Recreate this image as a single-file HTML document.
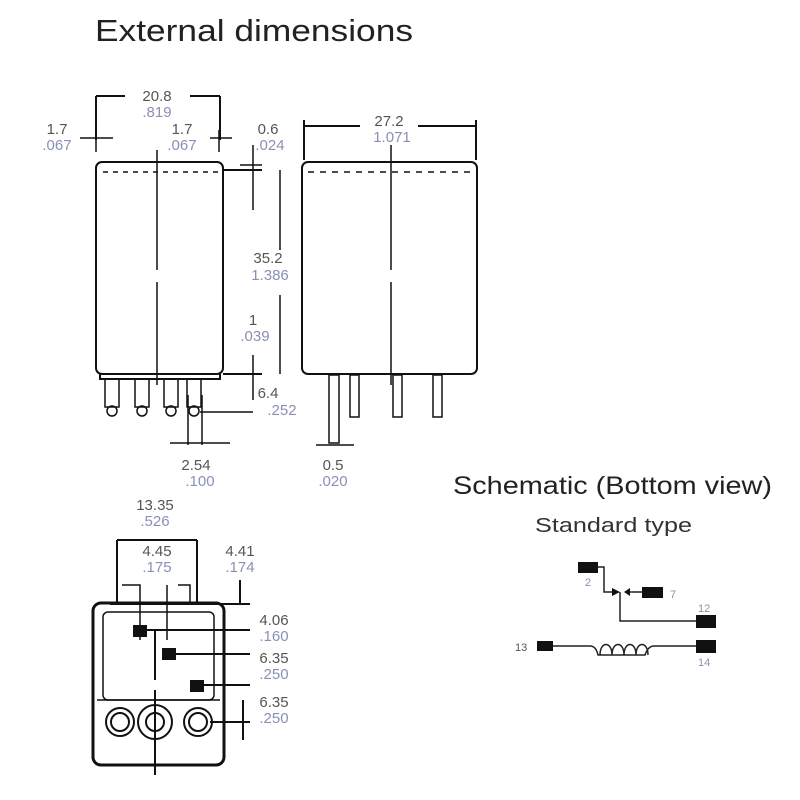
<!DOCTYPE html>
<html><head><style>
body{margin:0;background:#fff;width:800px;height:800px;overflow:hidden}
svg{display:block}
text{font-family:"Liberation Sans",sans-serif}
.d{fill:#555;font-size:15px}
.i{fill:#8a90b5;font-size:15px}
</style></head><body>
<svg width="800" height="800" viewBox="0 0 800 800" xmlns="http://www.w3.org/2000/svg">
<text x="95" y="41" font-size="31" fill="#222" textLength="318" lengthAdjust="spacingAndGlyphs">External dimensions</text>
<g stroke="#111" fill="none" stroke-width="2">
<rect x="96" y="162" width="127" height="212" rx="6"/>
<path d="M223 170 H262 M223 374 H262 M100 374 V379 H220 V374"/>
<path d="M103 172 H218" stroke-dasharray="5 5" stroke-width="1.5"/>
<path d="M157 150 V270 M157 282 V385" stroke-width="1.5"/>
<g stroke-width="1.5">
<rect x="105" y="379" width="14" height="28"/><circle cx="112" cy="411" r="5"/>
<rect x="135" y="379" width="14" height="28"/><circle cx="142" cy="411" r="5"/>
<rect x="164" y="379" width="14" height="28"/><circle cx="171" cy="411" r="5"/>
<rect x="187" y="379" width="14" height="28"/><circle cx="194" cy="411" r="5"/>
</g>
<path d="M96 96 H125 M190 96 H220 M96 96 V140 M220 96 V140"/>
<path d="M80 138 H113 M210 138 H232 M96 130 V152 M219 130 V152" stroke-width="1.5"/>
<path d="M253 145 V210 M280 170 V250 M280 295 V374 M253 355 V400" stroke-width="1.5"/>
<path d="M240 165 H262 M240 374 H262 M200 412 H253" stroke-width="1.5"/>
<path d="M188 395 V445 M202 395 V445 M170 443 H230" stroke-width="1.5"/>
<rect x="302" y="162" width="175" height="212" rx="6"/>
<path d="M308 172 H470" stroke-dasharray="6 6" stroke-width="1.5"/>
<path d="M391 145 V270 M391 282 V385" stroke-width="1.5"/>
<path d="M304 126 H360 M418 126 H476 M304 120 V160 M476 120 V160"/>
<g stroke-width="1.5">
<rect x="329" y="375" width="10" height="68"/>
<rect x="350" y="375" width="9" height="42"/>
<rect x="393" y="375" width="9" height="42"/>
<rect x="433" y="375" width="9" height="42"/>
<path d="M316 445 H354"/>
</g>
<rect x="93" y="603" width="131" height="162" rx="8" stroke-width="3"/>
<rect x="103" y="612" width="111" height="88" rx="5" stroke-width="1.5"/>
<path d="M97 700 H220" stroke-width="1.5"/>
<circle cx="120" cy="722" r="14" stroke-width="2"/><circle cx="120" cy="722" r="9"/>
<circle cx="155" cy="722" r="17" stroke-width="2"/><circle cx="155" cy="722" r="9"/>
<circle cx="198" cy="722" r="14" stroke-width="2"/><circle cx="198" cy="722" r="9"/>
<path d="M117 540 H197 M117 540 V605 M197 540 V605"/>
<path d="M122 585 H140 V640 M178 585 H190 V605 M167 585 V640" stroke-width="1.5"/>
<path d="M155 630 V680 M155 690 V775" stroke-width="2"/>
<path d="M110 604 H250 M240 580 V604" stroke-width="2"/>
<path d="M140 630 H250 M168 654 H250 M197 685 H250 M210 722 H250 M243 700 V740" stroke-width="2"/>
</g>
<g fill="#111">
<rect x="133" y="625" width="14" height="12"/><rect x="162" y="648" width="14" height="12"/><rect x="190" y="680" width="14" height="12"/>
</g>
<g text-anchor="middle">
<text class="d" x="157" y="101">20.8</text><text class="i" x="157" y="117">.819</text>
<text class="d" x="57" y="134">1.7</text><text class="i" x="57" y="150">.067</text>
<text class="d" x="182" y="134">1.7</text><text class="i" x="182" y="150">.067</text>
<text class="d" x="268" y="134">0.6</text><text class="i" x="270" y="150">.024</text>
<text class="d" x="268" y="263">35.2</text><text class="i" x="270" y="280">1.386</text>
<text class="d" x="253" y="325">1</text><text class="i" x="255" y="341">.039</text>
<text class="d" x="268" y="398">6.4</text><text class="i" x="282" y="415">.252</text>
<text class="d" x="196" y="470">2.54</text><text class="i" x="200" y="486">.100</text>
<text class="d" x="389" y="126">27.2</text><text class="i" x="392" y="142">1.071</text>
<text class="d" x="333" y="470">0.5</text><text class="i" x="333" y="486">.020</text>
<text class="d" x="155" y="510">13.35</text><text class="i" x="155" y="526">.526</text>
<text class="d" x="157" y="556">4.45</text><text class="i" x="157" y="572">.175</text>
<text class="d" x="240" y="556">4.41</text><text class="i" x="240" y="572">.174</text>
<text class="d" x="274" y="625">4.06</text><text class="i" x="274" y="641">.160</text>
<text class="d" x="274" y="663">6.35</text><text class="i" x="274" y="679">.250</text>
<text class="d" x="274" y="707">6.35</text><text class="i" x="274" y="723">.250</text>
</g>
<text x="453" y="494" font-size="25" fill="#222" textLength="319" lengthAdjust="spacingAndGlyphs">Schematic (Bottom view)</text>
<text x="535" y="532" font-size="20" fill="#333" textLength="157" lengthAdjust="spacingAndGlyphs">Standard type</text>
<g stroke="#222" fill="none" stroke-width="1.5">
<path d="M598 567 H604 V592 H614 M628 592 H642"/>
<path d="M620 592 V621 H696"/>
<path d="M553 646 H590 Q596 646 598 655 H645 Q648 646 654 646 H696"/>
<path d="M600 655 c0 -14 12 -14 12 0 c0 -14 12 -14 12 0 c0 -14 12 -14 12 0 c0 -14 12 -14 12 0"/>
</g>
<g fill="#111">
<rect x="578" y="562" width="20" height="11"/>
<rect x="642" y="587" width="21" height="11"/>
<rect x="696" y="615" width="20" height="13"/>
<rect x="696" y="640" width="20" height="13"/>
<rect x="537" y="641" width="16" height="10"/>
<path d="M612 588 L620 592 L612 596 Z M630 588 L624 592 L630 596 Z"/>
</g>
<g font-size="11">
<text x="585" y="586" fill="#8a90b5">2</text>
<text x="670" y="598" fill="#8a90b5">7</text>
<text x="698" y="612" fill="#8a90b5">12</text>
<text x="515" y="651" fill="#555">13</text>
<text x="698" y="666" fill="#8a90b5">14</text>
</g>
</svg>
</body></html>
